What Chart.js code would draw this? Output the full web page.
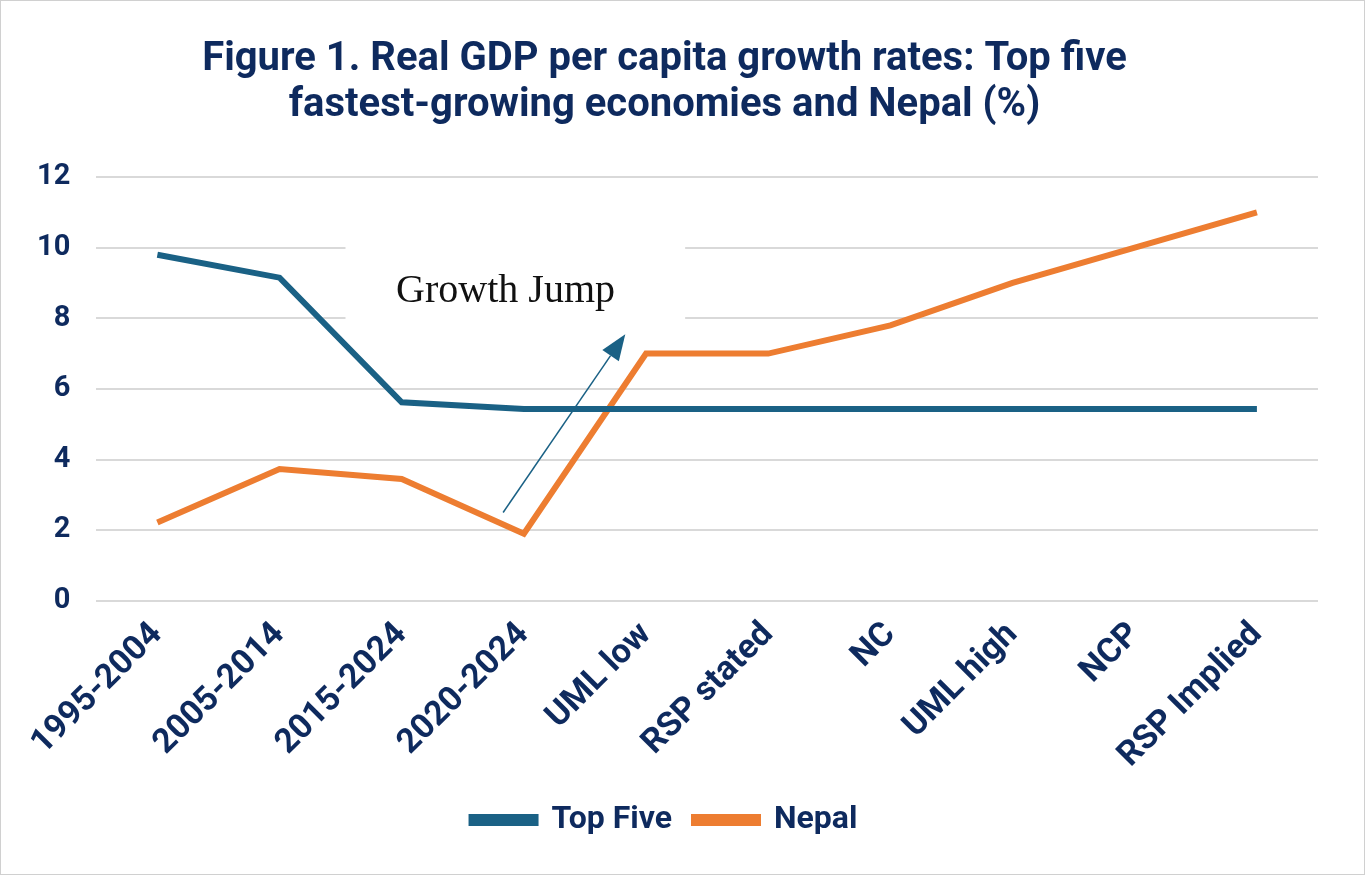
<!DOCTYPE html>
<html>
<head>
<meta charset="utf-8">
<script src="https://cdn.jsdelivr.net/npm/chart.js@4"></script>
<style>
  html, body { margin: 0; padding: 0; background: #fff; }
  #wrap { width: 1363px; height: 873px; border: 1px solid #d0d0d0; }
</style>
</head>
<body>
<div id="wrap"><canvas id="chart"></canvas></div>
<script>
var categories = ["1995-2004", "2005-2014", "2015-2024", "2020-2024", "UML low", "RSP stated", "NC", "UML high", "NCP", "RSP Implied"];
var topFive = [9.8, 9.15, 5.62, 5.43, 5.43, 5.43, 5.43, 5.43, 5.43, 5.43];
var nepal = [2.22, 3.73, 3.45, 1.9, 7.0, 7.0, 7.8, 9.0, 10.0, 11.0];
var yTicks = [0, 2, 4, 6, 8, 10, 12];

var navy = "#0e2a5e";

// text box with arrow, in category / value units
var growthJump = {
  box: { x0: 1.54, x1: 4.32, y0: 7.4, y1: 10.3 },
  text: { x: 2.85, y: 8.75, label: "Growth Jump" },
  arrow: { x0: 2.83, y0: 2.5, x1: 3.83, y1: 7.55 }
};

var annotationPlugin = {
  id: "growthJump",
  afterDatasetsDraw: function (chart) {
    var ctx = chart.ctx, xs = chart.scales.x, ys = chart.scales.y;
    var b = growthJump.box, t = growthJump.text, a = growthJump.arrow;
    ctx.save();
    ctx.fillStyle = "#fff";
    var bx0 = xs.getPixelForValue(b.x0), bx1 = xs.getPixelForValue(b.x1);
    var by0 = ys.getPixelForValue(b.y1), by1 = ys.getPixelForValue(b.y0);
    ctx.fillRect(bx0, by0, bx1 - bx0, by1 - by0);

    ctx.fillStyle = "#111";
    ctx.font = "40px 'Liberation Serif', serif";
    ctx.textAlign = "center";
    ctx.textBaseline = "middle";
    ctx.fillText(t.label, xs.getPixelForValue(t.x), ys.getPixelForValue(t.y));

    var ax0 = xs.getPixelForValue(a.x0), ay0 = ys.getPixelForValue(a.y0);
    var ax1 = xs.getPixelForValue(a.x1), ay1 = ys.getPixelForValue(a.y1);
    var ang = Math.atan2(ay1 - ay0, ax1 - ax0);
    var hl = 26, hw = 10;
    var bxp = ax1 - hl * Math.cos(ang), byp = ay1 - hl * Math.sin(ang);
    ctx.strokeStyle = "#1a6185";
    ctx.fillStyle = "#1a6185";
    ctx.lineWidth = 1.5;
    ctx.beginPath();
    ctx.moveTo(ax0, ay0);
    ctx.lineTo(bxp, byp);
    ctx.stroke();
    ctx.beginPath();
    ctx.moveTo(ax1, ay1);
    ctx.lineTo(bxp + hw * Math.sin(ang), byp - hw * Math.cos(ang));
    ctx.lineTo(bxp - hw * Math.sin(ang), byp + hw * Math.cos(ang));
    ctx.closePath();
    ctx.fill();
    ctx.restore();
  }
};

new Chart(document.getElementById("chart"), {
  type: "line",
  data: {
    labels: categories,
    datasets: [
      { label: "Top Five", data: topFive, borderColor: "#1a6185", backgroundColor: "#1a6185", borderWidth: 6, pointRadius: 0, tension: 0 },
      { label: "Nepal", data: nepal, borderColor: "#ed7d31", backgroundColor: "#ed7d31", borderWidth: 6, pointRadius: 0, tension: 0 }
    ]
  },
  options: {
    responsive: true,
    maintainAspectRatio: false,
    animation: false,
    layout: { padding: { left: 10, right: 46, top: 24, bottom: 28 } },
    plugins: {
      title: {
        display: true,
        text: ["Figure 1. Real GDP per capita growth rates: Top five", "fastest-growing economies and Nepal (%)"],
        color: navy,
        font: { family: "Roboto", size: 40, weight: "bold", lineHeight: 1.15 },
        padding: { top: 12, bottom: 48 }
      },
      legend: {
        position: "bottom",
        labels: {
          color: navy,
          font: { family: "Roboto", size: 32, weight: "bold" },
          boxWidth: 64, boxHeight: 6,
          padding: 22
        }
      },
      tooltip: { enabled: false }
    },
    scales: {
      x: {
        offset: true,
        grid: { display: false },
        border: { display: false },
        ticks: {
          color: navy, maxRotation: 45, minRotation: 45, padding: 6,
          font: { family: "Roboto", size: 34, weight: "bold" }
        }
      },
      y: {
        min: 0, max: 12,
        afterBuildTicks: function (axis) { axis.ticks = yTicks.map(function (v) { return { value: v }; }); },
        grid: { color: "#d9d9d9", lineWidth: 2, drawTicks: false },
        border: { display: false },
        ticks: {
          color: navy, padding: 26,
          font: { family: "Roboto", size: 29, weight: "bold" }
        }
      }
    }
  },
  plugins: [annotationPlugin]
});
</script>
</body>
</html>
